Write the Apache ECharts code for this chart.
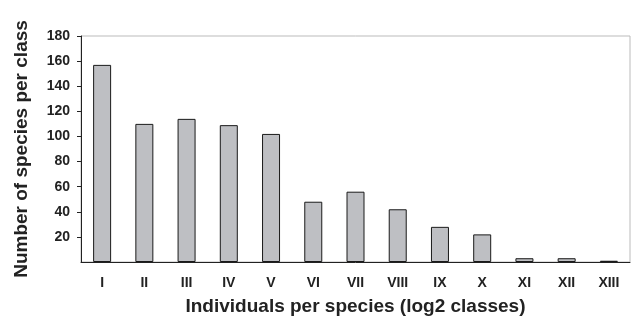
<!DOCTYPE html>
<html>
<head>
<meta charset="utf-8">
<script src="https://cdn.jsdelivr.net/npm/echarts@6/dist/echarts.min.js"></script>
<style>
  html, body { margin: 0; padding: 0; background: #fff; }
  #chart { width: 632px; height: 317px; }
</style>
</head>
<body>
<div id="chart"></div>
<script>
// log2 abundance classes
const classes = ['I', 'II', 'III', 'IV', 'V', 'VI', 'VII', 'VIII', 'IX', 'X', 'XI', 'XII', 'XIII'];
// number of species in each class
const speciesCounts = [157, 110, 114, 109, 102, 48, 56, 42, 28, 22, 3, 3, 1];

const yMin = 0;
const yMax = 180;
const yStep = 20;

const chart = echarts.init(document.getElementById('chart'));

const option = {
    animation: false,
    textStyle: { fontFamily: 'Liberation Sans, Arial, sans-serif' },
    grid: {
        left: 81,
        top: 36,
        right: 2,
        bottom: 55,
        outerBoundsMode: 'none',
        show: true,
        borderColor: '#bbb',
        borderWidth: 1
    },
    xAxis: {
        type: 'category',
        data: classes,
        name: 'Individuals per species (log2 classes)',
        nameLocation: 'middle',
        nameGap: 35,
        nameTextStyle: { fontSize: 19, fontWeight: 'bold', color: '#222' },
        axisLine: { lineStyle: { color: '#222', width: 1 } },
        axisTick: { length: 4, lineStyle: { color: '#222' } },
        axisLabel: { fontSize: 14, fontWeight: 'bold', color: '#222', margin: 14 }
    },
    yAxis: {
        type: 'value',
        min: yMin,
        max: yMax,
        interval: yStep,
        name: 'Number of species per class',
        nameLocation: 'middle',
        nameGap: 50,
        nameTextStyle: { fontSize: 19, fontWeight: 'bold', color: '#222' },
        axisLine: { show: true, lineStyle: { color: '#222', width: 1 } },
        axisTick: { show: true, length: 4, lineStyle: { color: '#222' } },
        axisLabel: { fontSize: 14, fontWeight: 'bold', color: '#222', margin: 11, showMinLabel: false },
        splitLine: { show: false }
    },
    series: [{
        type: 'bar',
        data: speciesCounts,
        barWidth: 18,
        itemStyle: {
            color: '#bebfc3',
            borderColor: '#1a1a1a',
            borderWidth: 1
        }
    }]
};

chart.setOption(option);
</script>
</body>
</html>
